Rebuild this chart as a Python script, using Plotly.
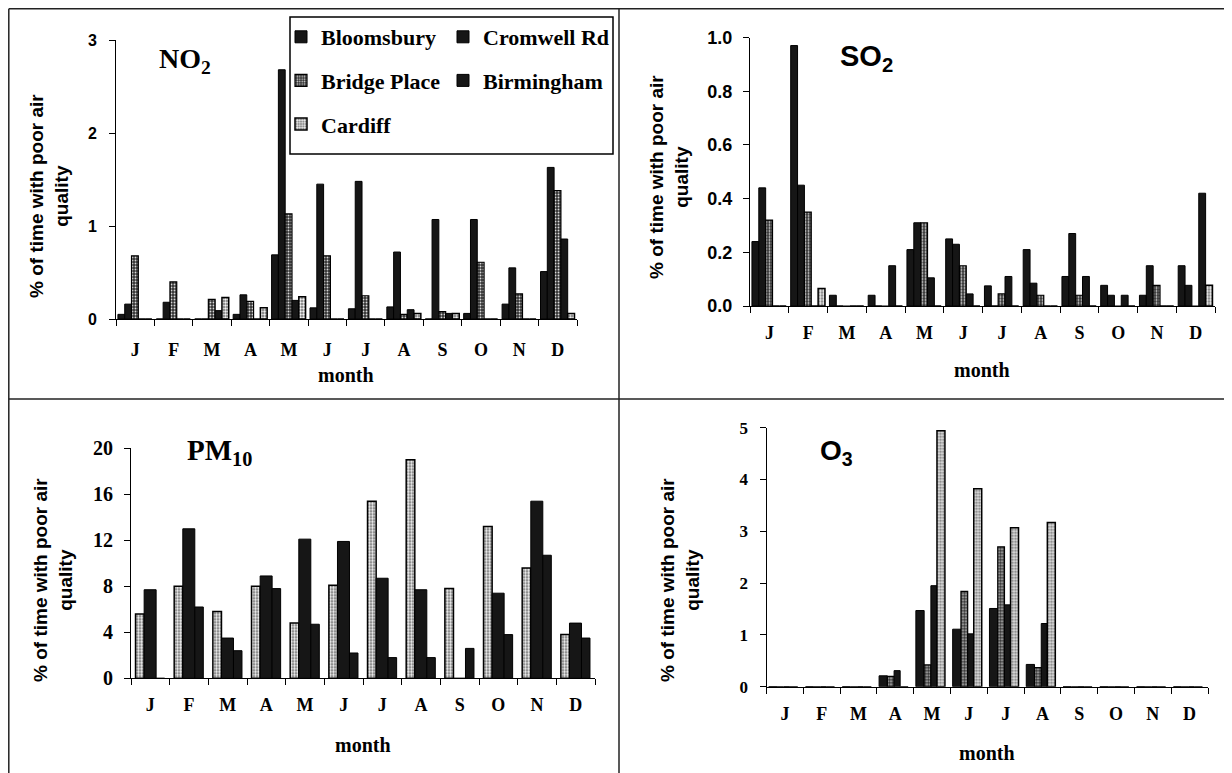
import plotly.graph_objects as go

# page body has an 8px margin, so the figure is drawn 8px in from the top-left corner
OFF = 8
W, H = 1232 - OFF, 773 - OFF

# ---------------- data ----------------
months = ["J", "F", "M", "A", "M", "J", "J", "A", "S", "O", "N", "D"]
sites = ["Bloomsbury", "Cromwell Rd", "Bridge Place", "Birmingham", "Cardiff"]

# NO2 (% of time with poor air quality)
no2_bloomsbury = [0.05, 0.00, 0.00, 0.05, 0.69, 0.12, 0.11, 0.13, 0.00, 0.06, 0.16, 0.51]
no2_cromwell = [0.16, 0.18, 0.00, 0.26, 2.68, 1.45, 1.48, 0.72, 1.07, 1.07, 0.55, 1.63]
no2_bridge = [0.68, 0.40, 0.21, 0.19, 1.13, 0.68, 0.25, 0.05, 0.08, 0.61, 0.27, 1.38]
no2_birmingham = [0.00, 0.00, 0.09, 0.00, 0.20, 0.00, 0.00, 0.10, 0.06, 0.00, 0.00, 0.86]
no2_cardiff = [0.00, 0.00, 0.23, 0.12, 0.24, 0.00, 0.00, 0.06, 0.06, 0.00, 0.00, 0.06]

# SO2
so2_bloomsbury = [0.24, 0.97, 0.04, 0.04, 0.21, 0.25, 0.075, 0.21, 0.11, 0.077, 0.04, 0.15]
so2_cromwell = [0.44, 0.45, 0.00, 0.00, 0.31, 0.23, 0.00, 0.085, 0.27, 0.04, 0.15, 0.077]
so2_bridge = [0.32, 0.35, 0.00, 0.00, 0.31, 0.15, 0.045, 0.04, 0.04, 0.00, 0.077, 0.00]
so2_birmingham = [0.00, 0.00, 0.00, 0.15, 0.105, 0.045, 0.11, 0.00, 0.11, 0.04, 0.00, 0.42]
so2_cardiff = [0.00, 0.065, 0.00, 0.00, 0.00, 0.00, 0.00, 0.00, 0.00, 0.00, 0.00, 0.077]

# PM10 (three sites shown)
pm10_stippled = [5.6, 8.0, 5.8, 8.0, 4.8, 8.1, 15.4, 19.0, 7.8, 13.2, 9.6, 3.8]
pm10_black_a = [7.7, 13.0, 3.5, 8.9, 12.1, 11.9, 8.7, 7.7, 0.0, 7.4, 15.4, 4.8]
pm10_black_b = [0.0, 6.2, 2.4, 7.8, 4.7, 2.2, 1.8, 1.8, 2.6, 3.8, 10.7, 3.5]

# O3 (four sites shown)
o3_bloomsbury = [0, 0, 0, 0.21, 1.47, 1.11, 1.51, 0.43, 0, 0, 0, 0]
o3_bridge = [0, 0, 0, 0.20, 0.42, 1.84, 2.70, 0.37, 0, 0, 0, 0]
o3_birmingham = [0, 0, 0, 0.31, 1.95, 1.02, 1.58, 1.22, 0, 0, 0, 0]
o3_cardiff = [0, 0, 0, 0.00, 4.94, 3.82, 3.07, 3.17, 0, 0, 0, 0]

no2_ticks = [0, 1, 2, 3]
so2_ticks = [0.0, 0.2, 0.4, 0.6, 0.8, 1.0]
pm10_ticks = [0, 4, 8, 12, 16, 20]
o3_ticks = [0, 1, 2, 3, 4, 5]

# ---------------- styles ----------------
BLACK = dict(color="#161616", line=dict(color="black", width=1))
DARK_ST = dict(color="#3a3a3a",
               pattern=dict(shape=".", fillmode="replace", bgcolor="#333333",
                            fgcolor="#d8d8d8", size=3, solidity=0.3),
               line=dict(color="black", width=1.2))
LIGHT_ST = dict(color="#888888",
                pattern=dict(shape=".", fillmode="replace", bgcolor="#6e6e6e",
                             fgcolor="#f4f4f4", size=3, solidity=0.5),
                line=dict(color="black", width=1.5))
site_style = {"Bloomsbury": BLACK, "Cromwell Rd": BLACK, "Bridge Place": DARK_ST,
              "Birmingham": BLACK, "Cardiff": LIGHT_ST}
site_legend = {"Bloomsbury": "legend", "Cromwell Rd": "legend2", "Bridge Place": "legend",
               "Birmingham": "legend2", "Cardiff": "legend"}

x = list(range(12))
fig = go.Figure()


def add_bar(vals, name, style, xa, ya, offset, width, showlegend=False, legend="legend"):
    fig.add_trace(go.Bar(
        x=x, y=vals, name=name, marker=style, offset=offset, width=width,
        xaxis=xa, yaxis=ya, showlegend=showlegend, legend=legend,
        legendgroup=name if showlegend else None,
    ))


# five-site panels
w5 = 0.177
start5 = -0.5 + 0.05
for i, (name, vals) in enumerate(zip(sites, [no2_bloomsbury, no2_cromwell, no2_bridge,
                                             no2_birmingham, no2_cardiff])):
    add_bar(vals, name, site_style[name], "x", "y", start5 + i * w5, w5,
            showlegend=True, legend=site_legend[name])
for i, (name, vals) in enumerate(zip(sites, [so2_bloomsbury, so2_cromwell, so2_bridge,
                                             so2_birmingham, so2_cardiff])):
    add_bar(vals, name, site_style[name], "x2", "y2", start5 + i * w5, w5)

# PM10 panel
pm_geom = [(-0.383, 0.223), (-0.16, 0.31), (0.15, 0.22)]
for (off, wd), vals, st in zip(pm_geom, [pm10_stippled, pm10_black_a, pm10_black_b],
                               [LIGHT_ST, BLACK, BLACK]):
    add_bar(vals, "PM10", st, "x3", "y3", off, wd)

# O3 panel
o3_geom = [(-0.44, 0.225), (-0.215, 0.183), (-0.032, 0.165), (0.133, 0.217)]
for (off, wd), vals, name in zip(o3_geom, [o3_bloomsbury, o3_bridge, o3_birmingham, o3_cardiff],
                                 ["Bloomsbury", "Bridge Place", "Birmingham", "Cardiff"]):
    add_bar(vals, name, site_style[name], "x4", "y4", off, wd)


def px(v):
    return (v - OFF) / W


def py(v):
    return 1 - (v - OFF) / H


SERIF = "Liberation Serif"
SANS = "Liberation Sans"

panels = [
    # xaxis, yaxis, x0, x1, ytop, ybottom, ticks, tickfont, ymax, tickformat, ystand, xstand
    ("xaxis", "yaxis", "y", 116, 577, 40, 319, no2_ticks, dict(family=SANS, size=16), 3, None, 9, 14),
    ("xaxis2", "yaxis2", "y2", 750, 1215, 37.5, 306, so2_ticks, dict(family=SANS, size=18), 1.0, ".1f", 7, 10),
    ("xaxis3", "yaxis3", "y3", 131, 595, 448.3, 678.3, pm10_ticks, dict(family=SERIF, size=20), 20, None, 7, 10),
    ("xaxis4", "yaxis4", "y4", 766.5, 1208, 427.7, 686.7, o3_ticks, dict(family=SERIF, size=17), 5, None, 8, 11),
]
for xa, ya, yref, x0, x1, yt, yb, tv, tf, ymax, tfmt, ystand, xstand in panels:
    tf = dict(tf, color="black", weight="bold")
    fig.update_layout(**{
        xa: dict(domain=[px(x0), px(x1)], anchor=yref, range=[-0.5, 11.5],
                 tickmode="array", tickvals=x, ticktext=months, ticks="",
                 tickfont=dict(family=SERIF, size=18, color="black", weight="bold"),
                 ticklabelstandoff=xstand, automargin=False,
                 showline=True, linecolor="black", linewidth=1,
                 showgrid=False, zeroline=False, fixedrange=True,
                 minor=dict(tickmode="array", tickvals=[i - 0.5 for i in range(13)],
                            ticks="outside", ticklen=6, tickwidth=1,
                            tickcolor="black", showgrid=False)),
        ya: dict(domain=[py(yb), py(yt)], anchor=xa.replace("axis", ""), range=[0, ymax],
                 tickmode="array", tickvals=tv, tickformat=tfmt,
                 ticks="outside", ticklen=6, tickwidth=1, tickcolor="black",
                 tickfont=tf, ticklabelstandoff=ystand, automargin=False,
                 showline=True, linecolor="black", linewidth=1,
                 showgrid=False, zeroline=False, fixedrange=True),
    })

annotations = []
# panel titles
titles = [("NO<sub>2</sub>", SERIF, 28, 157, 61), ("SO<sub>2</sub>", SANS, 29, 838, 58),
          ("PM<sub>10</sub>", SERIF, 29, 185, 452), ("O<sub>3</sub>", SANS, 28, 818, 452)]
for txt, fam, sz, tx, ty in titles:
    annotations.append(dict(text=txt, x=px(tx), y=py(ty), xref="paper", yref="paper",
                            xanchor="left", yanchor="middle", showarrow=False,
                            font=dict(family=fam, size=sz, color="black", weight="bold")))
# y titles
for tx, ty in [(49, 196), (669, 177), (53, 580), (680, 580)]:
    annotations.append(dict(text="% of time with poor air<br>quality", x=px(tx), y=py(ty),
                            xref="paper", yref="paper", textangle=-90,
                            xanchor="center", yanchor="middle", showarrow=False,
                            font=dict(family=SANS, size=19, color="black", weight="bold")))
# x titles
for tx, ty in [(346, 375), (982, 370), (363, 745), (987, 753)]:
    annotations.append(dict(text="month", x=px(tx), y=py(ty), xref="paper", yref="paper",
                            xanchor="center", yanchor="middle", showarrow=False,
                            font=dict(family=SERIF, size=20, color="black", weight="bold")))

shapes = []
frame = dict(color="#222222", width=1.5)
E = OFF + 0.8  # outer frame edge (left/top)
for (a, b, c, d) in [(E, E, 1232, E), (E, E, E, 773), (619, E, 619, 773), (E, 399, 1232, 399)]:
    shapes.append(dict(type="line", xref="paper", yref="paper",
                       x0=px(a), y0=py(b), x1=px(c), y1=py(d), line=frame))
# legend box
shapes.append(dict(type="rect", xref="paper", yref="paper", x0=px(290), x1=px(613),
                   y0=py(154), y1=py(17), line=dict(color="black", width=1.5)))

legend_font = dict(family=SERIF, size=22, color="black", weight="bold")
fig.update_layout(
    width=W, height=H, margin=dict(l=0, r=0, t=0, b=0, autoexpand=False),
    paper_bgcolor="white", plot_bgcolor="white", barmode="overlay",
    annotations=annotations, shapes=shapes,
    legend=dict(x=px(281), y=py(16), xanchor="left", yanchor="top", font=legend_font,
                bgcolor="rgba(0,0,0,0)", borderwidth=0, traceorder="grouped",
                tracegroupgap=12, orientation="v"),
    legend2=dict(x=px(443), y=py(16), xanchor="left", yanchor="top", font=legend_font,
                 bgcolor="rgba(0,0,0,0)", borderwidth=0, traceorder="grouped",
                 tracegroupgap=12, orientation="v"),
)

fig.write_html("out.html")
